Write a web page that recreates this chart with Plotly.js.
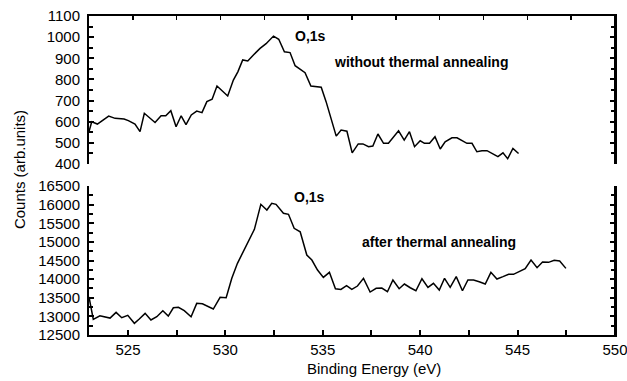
<!DOCTYPE html>
<html>
<head>
<meta charset="utf-8">
<script src="https://cdn.plot.ly/plotly-3.0.1.min.js"></script>
<style>html,body{margin:0;padding:0;background:#fff;}#chart{width:627px;height:381px;}</style>
</head>
<body>
<div id="chart"></div>
<script>
// Top panel: O 1s without thermal annealing
const energyBefore = [523.00,523.14,523.43,524.01,524.34,524.80,525.02,525.28,525.36,525.62,525.84,526.39,526.70,526.94,527.20,527.47,527.73,527.98,528.25,528.53,528.80,529.05,529.32,529.57,530.12,530.41,530.64,530.89,531.15,531.44,531.78,532.09,532.47,532.74,533.03,533.32,533.58,534.09,534.39,534.92,535.17,535.69,535.94,536.24,536.51,536.82,537.06,537.35,537.57,537.83,538.12,538.37,538.89,539.18,539.45,539.71,540.00,540.22,540.48,540.76,541.03,541.28,541.63,541.89,542.40,542.66,542.91,543.17,543.43,543.99,544.25,544.49,544.76,545.05];
const countsBefore = [553,600,589,627,616,613,605,592,589,553,640,596,628,628,652,576,628,586,632,650,643,695,706,769,722,797,836,892,887,916,947,969,1005,990,931,927,865,832,769,763,695,532,561,555,453,495,495,482,485,542,498,498,557,513,553,482,510,498,498,529,471,505,524,524,498,498,458,463,463,435,453,425,474,450];

// Bottom panel: O 1s after thermal annealing
const energyAfter = [523.00,523.22,523.56,524.08,524.39,524.68,524.99,525.33,525.58,525.88,526.18,526.48,526.79,527.07,527.33,527.59,527.89,528.24,528.53,528.82,529.38,529.73,530.04,530.33,530.62,530.93,531.23,531.49,531.82,532.13,532.38,532.60,532.98,533.24,533.53,533.84,534.18,534.44,534.73,535.03,535.34,535.65,535.93,536.22,536.49,536.78,537.09,537.43,537.74,538.03,538.32,538.60,538.92,539.19,539.49,539.78,540.09,540.40,540.68,540.98,541.25,541.54,541.85,542.17,542.45,542.74,543.03,543.34,543.63,543.94,544.25,544.54,544.79,545.10,545.39,545.69,546.00,546.28,546.59,546.88,547.16,547.48];
const countsAfter = [13520,12920,13017,12955,13108,12964,13028,12813,12928,13081,12902,12991,13152,13009,13232,13242,13152,12991,13350,13340,13198,13511,13500,14022,14425,14755,15069,15337,16009,15856,16035,16009,15767,15740,15364,15273,14647,14513,14244,14048,14182,13740,13725,13823,13725,13815,14022,13654,13753,13761,13662,13976,13743,13868,13769,13689,14011,13779,13887,13707,14022,13779,14066,13689,13976,13976,13930,13868,14182,14003,14066,14129,14129,14199,14280,14513,14307,14459,14451,14504,14486,14289];

const xTitle = "Binding Energy (eV)";
const yTitle = "Counts (arb.units)";
const peakLabel = "O,1s";
const labelBefore = "without thermal annealing";
const labelAfter = "after thermal annealing";

const lineStyle = {color: '#000', width: 1.5};
const traces = [
  {x: energyBefore, y: countsBefore, type: 'scatter', mode: 'lines', line: lineStyle, xaxis: 'x2', yaxis: 'y', hoverinfo: 'skip'},
  {x: energyAfter, y: countsAfter, type: 'scatter', mode: 'lines', line: lineStyle, xaxis: 'x', yaxis: 'y2', hoverinfo: 'skip'}
];

const font = {family: '"Liberation Sans", Arial, sans-serif', size: 15, color: '#000'};
const bold = {family: '"Liberation Sans", Arial, sans-serif', size: 14, color: '#000', weight: 'bold'};

const topDomain = [0.536, 1];
const bottomDomain = [0, 0.467];

function yAxis(domain, range, dtick, minorDtick, anchor) {
  return {
    domain: domain, range: range, anchor: anchor,
    tickmode: 'linear', tick0: range[0], dtick: dtick,
    ticks: 'inside', ticklen: 5, tickwidth: 2, tickcolor: '#000',
    minor: {dtick: minorDtick, ticks: 'inside', ticklen: 4, tickwidth: 2, tickcolor: '#000'},
    showline: true, linecolor: '#000', linewidth: 2, mirror: 'ticks',
    showgrid: false, zeroline: false, tickfont: font, ticklabelstandoff: 4,
    exponentformat: 'none', tickformat: 'd'
  };
}

const frameLine = {color: '#000', width: 2};

const layout = {
  width: 627, height: 381,
  margin: {l: 89, r: 12, t: 16, b: 46},
  paper_bgcolor: '#fff', plot_bgcolor: 'rgba(0,0,0,0)',
  showlegend: false,
  font: font,
  xaxis: {
    anchor: 'y2', domain: [0, 1], range: [523, 550],
    tickmode: 'linear', tick0: 525, dtick: 5,
    ticks: 'inside', ticklen: 5, tickwidth: 2, tickcolor: '#000',
    minor: {dtick: 2.5, tick0: 525, ticks: 'inside', ticklen: 5, tickwidth: 2, tickcolor: '#000'},
    showline: true, linecolor: '#000', linewidth: 2, mirror: false,
    showgrid: false, zeroline: false, tickfont: font, ticklabeloverflow: 'allow'
  },
  xaxis2: {
    anchor: 'y', side: 'top', domain: [0, 1], range: [523, 550],
    tickmode: 'linear', tick0: 523, dtick: 2.25,
    ticks: 'inside', ticklen: 4, tickwidth: 1.5, tickcolor: '#000',
    showticklabels: false,
    showline: true, linecolor: '#000', linewidth: 2, mirror: false,
    showgrid: false, zeroline: false
  },
  yaxis: yAxis(topDomain, [400, 1100], 100, 50, 'x2'),
  yaxis2: yAxis(bottomDomain, [12500, 16500], 500, 250, 'x'),
  shapes: [
    {type: 'line', xref: 'paper', yref: 'paper', x0: 1, x1: 1, y0: topDomain[0], y1: topDomain[1], line: frameLine, layer: 'above'},
    {type: 'line', xref: 'paper', yref: 'paper', x0: 1, x1: 1, y0: bottomDomain[0], y1: bottomDomain[1], line: frameLine, layer: 'above'}
  ],
  annotations: [
    {text: peakLabel, xref: 'paper', yref: 'paper', x: 0.421, y: 0.937, showarrow: false, font: bold, xanchor: 'center', yanchor: 'middle'},
    {text: labelBefore, xref: 'paper', yref: 'paper', x: 0.632, y: 0.857, showarrow: false, font: bold, xanchor: 'center', yanchor: 'middle'},
    {text: peakLabel, xref: 'paper', yref: 'paper', x: 0.420, y: 0.433, showarrow: false, font: bold, xanchor: 'center', yanchor: 'middle'},
    {text: labelAfter, xref: 'paper', yref: 'paper', x: 0.665, y: 0.292, showarrow: false, font: bold, xanchor: 'center', yanchor: 'middle'},
    {text: xTitle, xref: 'paper', yref: 'paper', x: 0.542, y: -0.105, showarrow: false, font: font, xanchor: 'center', yanchor: 'middle'},
    {text: yTitle, xref: 'paper', yref: 'paper', x: -0.133, y: 0.517, showarrow: false, font: font, textangle: -90, xanchor: 'center', yanchor: 'middle'}
  ]
};

Plotly.newPlot('chart', traces, layout, {staticPlot: true, displayModeBar: false});
</script>
</body>
</html>
